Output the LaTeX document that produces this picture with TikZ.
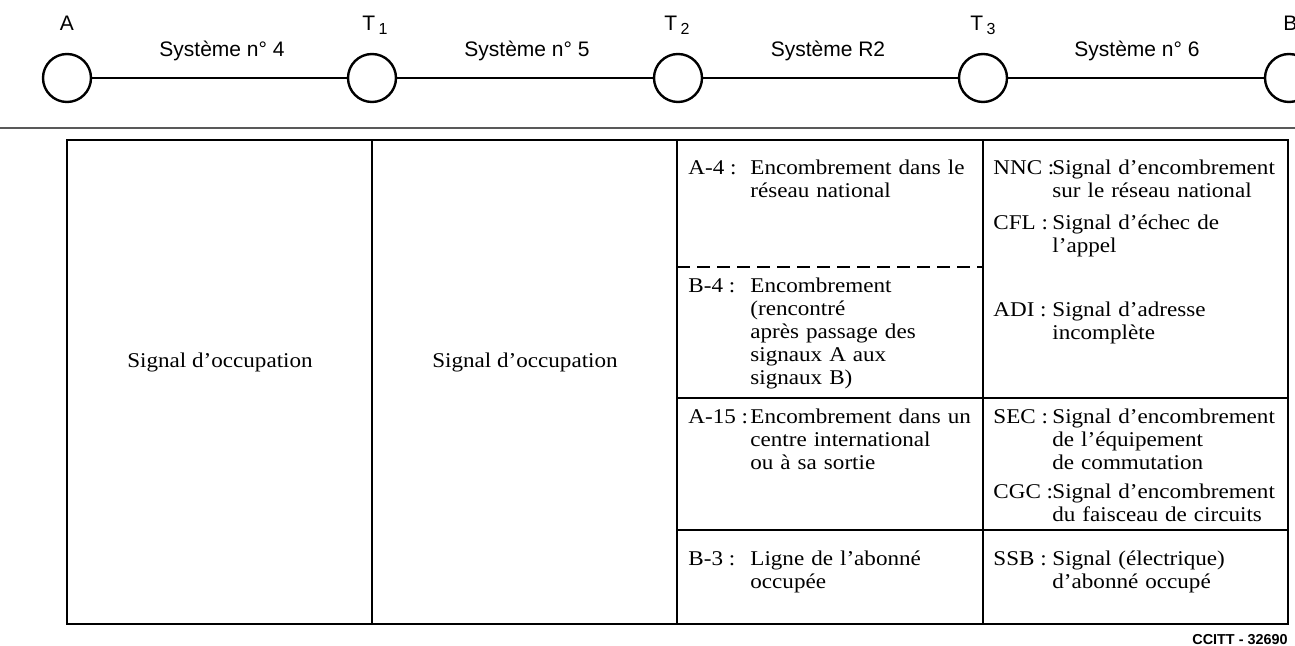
\documentclass[tikz,border=0pt]{standalone}
\usepackage{fontspec}
\setmainfont{Liberation Serif}[FakeStretch=1.1]
\newfontfamily\labelfont{Liberation Sans}
\begin{document}
\begin{tikzpicture}[x=0.5pt,y=-0.5pt,
  station/.style={circle, draw, line width=1.2pt, minimum size=24pt, inner sep=0pt},
  link/.style={line width=1pt},
  toplabel/.style={font=\labelfont\fontsize{10.5}{12}\selectfont, anchor=base, inner sep=0pt},
  cellkey/.style={font=\fontsize{10.5}{11.5}\selectfont, anchor=base west, inner sep=0pt},
  celltext/.style={font=\fontsize{10.5}{11.5}\selectfont, anchor=base west, inner sep=0pt, text width=140pt, align=left},
  gridline/.style={line width=1pt},
  dashline/.style={line width=1pt, dash pattern=on 6.5pt off 3.5pt},
  sepline/.style={line width=0.6pt, draw=black!65},
  credit/.style={font=\labelfont\bfseries\fontsize{7.2}{8}\selectfont, anchor=base east, inner sep=0pt}
]
\useasboundingbox (0,0) rectangle (1295,646);

% ---- top chain ----
\node[station] (A)  at (67,78) {};
\node[station] (T1) at (372,78) {};
\node[station] (T2) at (678,78) {};
\node[station] (T3) at (983,78) {};
\node[station] (B)  at (1289,78) {};
\draw[link] (A) -- (T1);
\draw[link] (T1) -- (T2);
\draw[link] (T2) -- (T3);
\draw[link] (T3) -- (B);

\node[toplabel] (lA)  at (67,31) {A};
\node[toplabel] (lT1) at (375,31) {T\,\raisebox{-0.35ex}{\fontsize{8}{9}\selectfont 1}};
\node[toplabel] (lT2) at (677,31) {T\,\raisebox{-0.35ex}{\fontsize{8}{9}\selectfont 2}};
\node[toplabel] (lT3) at (983,31) {T\,\raisebox{-0.35ex}{\fontsize{8}{9}\selectfont 3}};
\node[toplabel, anchor=base west] (lB) at (1283,31) {B};

\node[toplabel] (s4) at (222,57) {Système n° 4};
\node[toplabel] (s5) at (527,57) {Système n° 5};
\node[toplabel] (sR) at (828,57) {Système R2};
\node[toplabel] (s6) at (1137,57) {Système n° 6};

\draw[sepline] (0,128) -- (1295,128);

% ---- table ----
\draw[gridline] (67,140) rectangle (1288,624);
\draw[gridline] (372,140) -- (372,624);
\draw[gridline] (677,140) -- (677,624);
\draw[gridline] (983,140) -- (983,624);
\draw[dashline] (677,267) -- (983,267);
\draw[gridline] (677,398) -- (1288,398);
\draw[gridline] (677,530) -- (1288,530);

\node[font=\fontsize{10.5}{11.5}\selectfont, anchor=base, inner sep=0pt] (occ1) at (220,368) {Signal d'occupation};
\node[font=\fontsize{10.5}{11.5}\selectfont, anchor=base, inner sep=0pt] (occ2) at (525,368) {Signal d'occupation};

% column 3
\node[cellkey] (kA4) at (688,175) {A-4 :};
\node[celltext] (tA4) at (750,175) {Encombrement dans le\\réseau national};
\node[cellkey] (kB4) at (688,293) {B-4 :};
\node[celltext] (tB4) at (750,293) {Encombrement\\(rencontré\\après passage des\\signaux A aux\\signaux B)};
\node[cellkey] (kA15) at (688,423) {A-15 :};
\node[celltext] (tA15) at (750,423) {Encombrement dans un\\centre international\\ou à sa sortie};
\node[cellkey] (kB3) at (688,565) {B-3 :};
\node[celltext] (tB3) at (750,565) {Ligne de l'abonné\\occupée};

% column 4
\node[cellkey] (kNNC) at (993,175) {NNC :};
\node[celltext] (tNNC) at (1052,175) {Signal d'encombrement\\sur le réseau national};
\node[cellkey] (kCFL) at (993,230) {CFL :};
\node[celltext] (tCFL) at (1052,230) {Signal d'échec de\\l'appel};
\node[cellkey] (kADI) at (993,317) {ADI :};
\node[celltext] (tADI) at (1052,317) {Signal d'adresse\\incomplète};
\node[cellkey] (kSEC) at (993,423) {SEC :};
\node[celltext] (tSEC) at (1052,423) {Signal d'encombrement\\de l'équipement\\de commutation};
\node[cellkey] (kCGC) at (993,498) {CGC :};
\node[celltext] (tCGC) at (1052,498) {Signal d'encombrement\\du faisceau de circuits};
\node[cellkey] (kSSB) at (993,565) {SSB :};
\node[celltext] (tSSB) at (1052,565) {Signal (électrique)\\d'abonné occupé};

\node[credit] (cc) at (1288,644) {CCITT - 32690};
\end{tikzpicture}
\end{document}
